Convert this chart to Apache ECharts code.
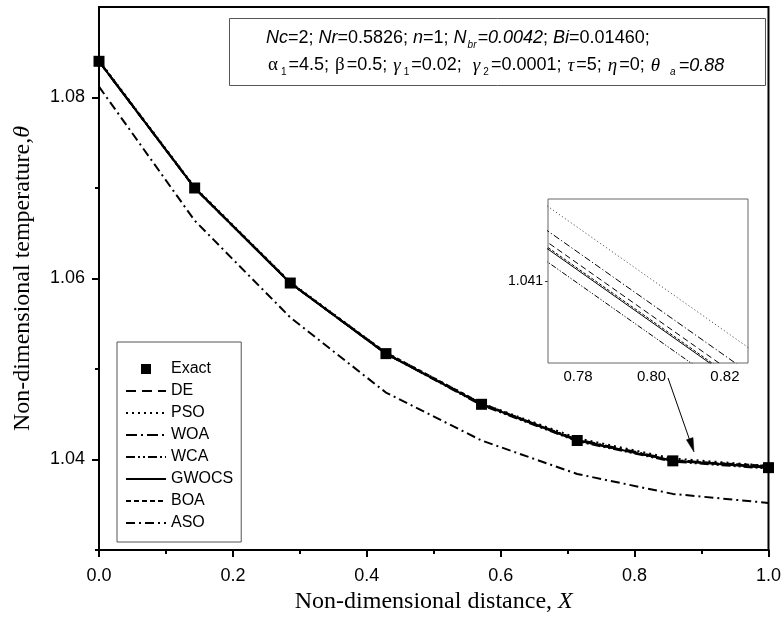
<!DOCTYPE html>
<html>
<head>
<meta charset="utf-8">
<script src="https://cdn.jsdelivr.net/npm/echarts@6/dist/echarts.min.js"></script>
<style>
  html, body { margin: 0; padding: 0; background: #fff; }
  #chart { width: 784px; height: 619px; }
</style>
</head>
<body>
<div id="chart"></div>
<script>
// Non-dimensional distance X at the eight collocation points
const xValues = [0, 0.1429, 0.2857, 0.4286, 0.5714, 0.7143, 0.8571, 1.0];

// Temperature profiles theta(X)
const exact = [1.0840, 1.0700, 1.0595, 1.0517, 1.0461, 1.04210, 1.03985, 1.0391];
const de    = [1.0840, 1.0700, 1.0595, 1.0517, 1.0461, 1.04214, 1.03989, 1.0392];
const pso   = [1.0841, 1.0701, 1.0596, 1.0518, 1.0462, 1.04236, 1.04011, 1.0393];
const woa   = [1.0840, 1.0700, 1.0595, 1.0517, 1.0461, 1.04221, 1.03996, 1.0391];
const wca   = [1.0840, 1.0700, 1.0595, 1.0517, 1.0460, 1.04202, 1.03977, 1.0390];
const gwocs = [1.0840, 1.0700, 1.0595, 1.0517, 1.0461, 1.04210, 1.03985, 1.0391];
const boa   = [1.0840, 1.0700, 1.0595, 1.0518, 1.0462, 1.04211, 1.03986, 1.0393];
const aso   = [1.0812, 1.0664, 1.0557, 1.0474, 1.0421, 1.03840, 1.03620, 1.0352];

// Axis tick positions
const xMajorTicks = [0, 0.2, 0.4, 0.6, 0.8, 1.0];
const yMajorTicks = [1.04, 1.06, 1.08];
const yMinorTicks = [1.03, 1.05, 1.07];
const insetXLabels = [0.78, 0.80, 0.82];
const insetXTicks = [0.78, 0.79, 0.80, 0.81, 0.82];
const insetYTicks = [1.041];

const legendNames = ['Exact', 'DE', 'PSO', 'WOA', 'WCA', 'GWOCS', 'BOA', 'ASO'];

const SANS = '"Liberation Sans", Arial, Helvetica, sans-serif';
const SERIF = '"Liberation Serif", "Times New Roman", serif';

const pairs = arr => xValues.map((x, i) => [x, arr[i]]);

// Line styles of the optimisation methods
const methods = [
  { name: 'DE',    data: de,    dash: [10, 6] },
  { name: 'PSO',   data: pso,   dash: [2, 4] },
  { name: 'WOA',   data: woa,   dash: [11, 4, 2, 4] },
  { name: 'WCA',   data: wca,   dash: [9, 3, 2, 3, 2, 3] },
  { name: 'GWOCS', data: gwocs, dash: 'solid' },
  { name: 'BOA',   data: boa,   dash: [5, 3] },
  { name: 'ASO',   data: aso,   dash: [9, 4, 2, 4] }
];

const series = [];
methods.forEach(m => {
  series.push({
    name: m.name, type: 'line', data: pairs(m.data),
    xAxisIndex: 0, yAxisIndex: 0, color: '#000',
    showSymbol: false, symbol: 'none', silent: true, animation: false,
    itemStyle: { color: '#000' },
    lineStyle: { color: '#000', width: 2, type: m.dash }
  });
});
series.push({
  name: 'Exact', type: 'scatter', data: pairs(exact),
  xAxisIndex: 0, yAxisIndex: 0, color: '#000',
  symbol: 'rect', symbolSize: 11, z: 5, animation: false,
  itemStyle: { color: '#000', opacity: 1 }
});
// Magnified view around X = 0.8
methods.filter(m => m.name !== 'ASO').forEach(m => {
  series.push({
    name: m.name, type: 'line', data: pairs(m.data),
    xAxisIndex: 1, yAxisIndex: 2, color: '#000',
    showSymbol: false, symbol: 'none', silent: true, animation: false, clip: true,
    lineStyle: {
      color: m.name === 'PSO' ? '#555' : '#000', width: 1,
      type: Array.isArray(m.dash) ? m.dash.map(v => Math.max(1, v * 0.6)) : m.dash
    }
  });
});

const legendData = legendNames.map(n => n === 'Exact'
  ? { name: n, icon: 'path://M0,0L10,0L10,10L0,10Z', itemStyle: { color: '#000' } }
  : { name: n, itemStyle: { opacity: 0 } });

const chart = echarts.init(document.getElementById('chart'), null, { renderer: 'canvas' });

const option = {
  backgroundColor: '#fff',
  animation: false,
  grid: [
    { left: 99, right: 14, top: 7, bottom: 66, show: true, borderColor: '#000', borderWidth: 2, backgroundColor: 'transparent' },
    { left: 548, top: 199, width: 200, height: 164, show: true, borderColor: '#666', borderWidth: 1, backgroundColor: '#fff', z: 3 }
  ],
  xAxis: [
    {
      type: 'value', gridIndex: 0, min: 0, max: 1, interval: 0.2,
      name: '{n|Non-dimensional distance, }{i|X}',
      nameLocation: 'middle', nameGap: 40,
      nameTextStyle: {
        rich: {
          n: { fontFamily: SERIF, fontSize: 24, color: '#000' },
          i: { fontFamily: SERIF, fontSize: 24, fontStyle: 'italic', color: '#000' }
        }
      },
      axisLine: { show: true, lineStyle: { color: '#000', width: 2 } },
      axisTick: { show: true, inside: false, length: 7, lineStyle: { color: '#000', width: 2 } },
      minorTick: { show: true, splitNumber: 2, length: 4, lineStyle: { color: '#000', width: 2 } },
      axisLabel: {
        fontFamily: SANS, fontSize: 18, color: '#000', margin: 17,
        customValues: xMajorTicks,
        formatter: v => v.toFixed(1)
      },
      splitLine: { show: false }, minorSplitLine: { show: false }
    },
    {
      type: 'value', gridIndex: 1, min: 0.7718, max: 0.8263,
      axisLine: { show: false },
      axisTick: { show: true, inside: true, length: 4, customValues: insetXTicks, lineStyle: { color: '#333', width: 1 } },
      axisLabel: {
        fontFamily: SANS, fontSize: 15, color: '#000', margin: 6,
        customValues: insetXLabels,
        formatter: v => v.toFixed(2)
      },
      splitLine: { show: false }
    }
  ],
  yAxis: [
    {
      type: 'value', gridIndex: 0, position: 'left', min: 1.03, max: 1.09,
      name: '{n|Non-dimensional temperature,}{i|θ}',
      nameLocation: 'middle', nameGap: 64,
      nameTextStyle: {
        rich: {
          n: { fontFamily: SERIF, fontSize: 24, color: '#000' },
          i: { fontFamily: SERIF, fontSize: 24, fontStyle: 'italic', color: '#000' }
        }
      },
      axisLine: { show: true, lineStyle: { color: '#000', width: 2 } },
      axisTick: { show: true, inside: false, length: 7, customValues: yMajorTicks, lineStyle: { color: '#000', width: 2 } },
      axisLabel: {
        fontFamily: SANS, fontSize: 18, color: '#000', margin: 14,
        customValues: yMajorTicks,
        formatter: v => v.toFixed(2)
      },
      splitLine: { show: false }
    },
    {
      type: 'value', gridIndex: 0, position: 'left', offset: 0, min: 1.03, max: 1.09,
      axisLine: { show: false },
      axisTick: { show: true, inside: false, length: 4, customValues: yMinorTicks, lineStyle: { color: '#000', width: 2 } },
      axisLabel: { show: false },
      splitLine: { show: false }
    },
    {
      type: 'value', gridIndex: 1, min: 1.0405, max: 1.0415,
      axisLine: { show: false },
      axisTick: { show: true, inside: false, length: 3, customValues: insetYTicks, lineStyle: { color: '#333', width: 1 } },
      axisLabel: {
        fontFamily: SANS, fontSize: 14, color: '#000', margin: 5,
        customValues: insetYTicks,
        formatter: v => v.toFixed(3)
      },
      splitLine: { show: false }
    }
  ],
  legend: {
    data: legendData,
    orient: 'vertical',
    left: 117, top: 342,
    padding: [19, 8, 11, 8],
    itemWidth: 40, itemHeight: 10, itemGap: 6,
    symbolKeepAspect: true,
    borderColor: '#555', borderWidth: 1, backgroundColor: '#fff',
    selectedMode: false,
    textStyle: { fontFamily: SANS, fontSize: 16, color: '#000', lineHeight: 16 }
  },
  series: series,
  graphic: [
    {
      type: 'rect', left: 229, top: 18, z: 10,
      shape: { width: 536, height: 67 },
      style: { fill: '#fff', stroke: '#555', lineWidth: 1 }
    },
    {
      type: 'text', left: 266, top: 29, z: 11,
      style: {
        text: '{i|Nc}{n|=2; }{i|Nr}{n|=0.5826; }{i|n}{n|=1; }{i|N}{si|br}{i|=0.0042}{n|; }{i|Bi}{n|=0.01460;}',
        rich: {
          n: { fontFamily: SANS, fontSize: 18, color: '#000', lineHeight: 20 },
          i: { fontFamily: SANS, fontSize: 18, fontStyle: 'italic', color: '#000', lineHeight: 20 },
          si: { fontFamily: SANS, fontSize: 10, fontStyle: 'italic', color: '#000', padding: [14, 1, 0, 1], verticalAlign: 'top' }
        }
      }
    },
    {
      type: 'text', left: 267, top: 56, z: 11,
      style: {
        text: '{g|α}{sr|1}{n|=4.5; }{g|β}{n|=0.5; }{gi|γ}{sb|1}{n|=0.02;  }{gi|γ}{sb|2}{n|=0.0001; }{gi|τ}{n|=5; }{gi|η}{n|=0; }{gi|θ}{n| }{si|a}{i|=0.88}',
        rich: {
          n: { fontFamily: SANS, fontSize: 18, color: '#000', lineHeight: 20 },
          i: { fontFamily: SANS, fontSize: 18, fontStyle: 'italic', color: '#000', lineHeight: 20 },
          g: { fontFamily: SERIF, fontSize: 19, color: '#000', lineHeight: 20, padding: [0, 2, 0, 1] },
          gi: { fontFamily: SERIF, fontSize: 19, fontStyle: 'italic', color: '#000', lineHeight: 20, padding: [0, 2, 0, 1] },
          sr: { fontFamily: SANS, fontSize: 10, color: '#8b1a1a', padding: [14, 2, 0, 1], verticalAlign: 'top' },
          sb: { fontFamily: SANS, fontSize: 10, color: '#2a3a80', padding: [14, 2, 0, 1], verticalAlign: 'top' },
          si: { fontFamily: SANS, fontSize: 10, fontStyle: 'italic', color: '#000', padding: [14, 3, 0, 3], verticalAlign: 'top' }
        }
      }
    },
    {
      type: 'polyline', z: 11,
      shape: { points: [[668, 378], [690, 441]] },
      style: { stroke: '#000', lineWidth: 1, fill: null }
    },
    {
      type: 'polygon', z: 11,
      shape: { points: [[694, 452], [686.4, 439.8], [693.0, 437.6]] },
      style: { fill: '#000', stroke: '#000', lineWidth: 0.5 }
    }
  ]
};

chart.setOption(option);
</script>
</body>
</html>
